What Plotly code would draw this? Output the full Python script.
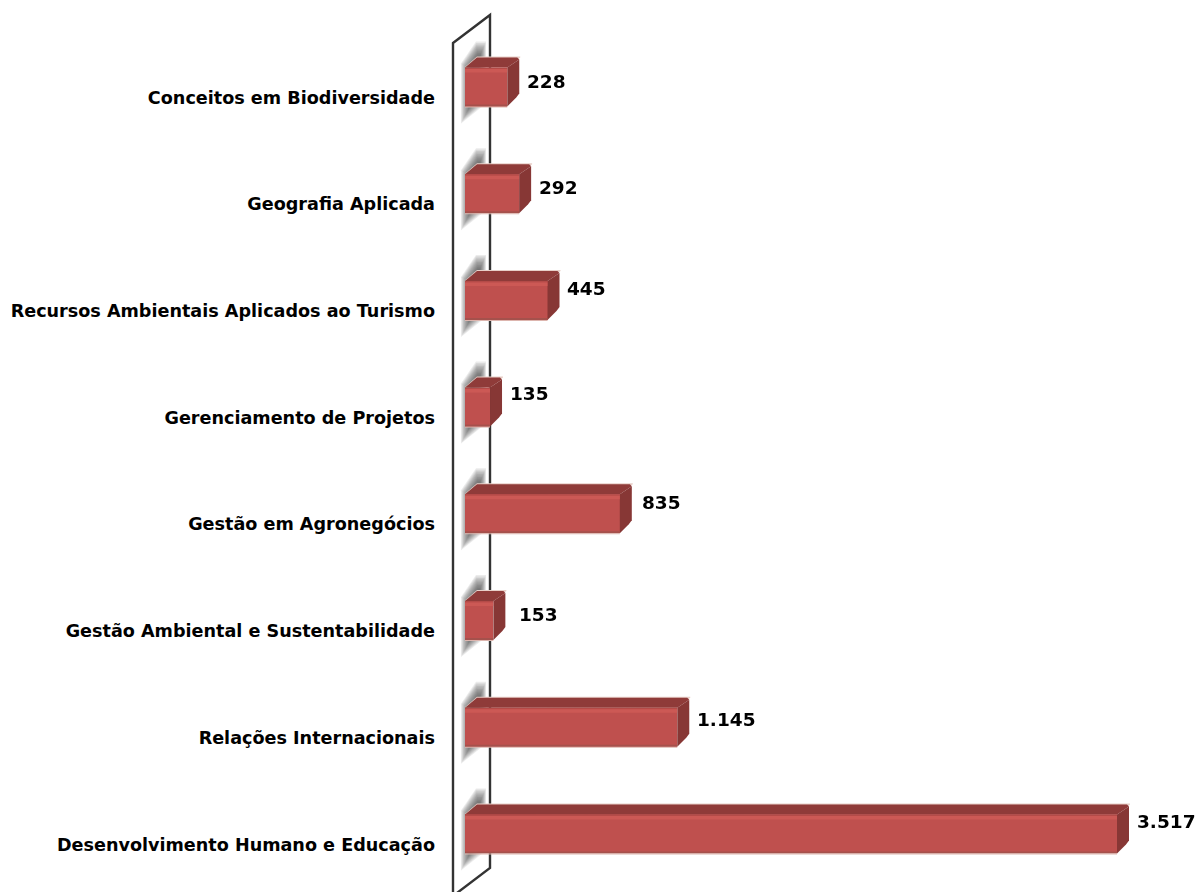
import plotly.graph_objects as go

categories = ["Conceitos em Biodiversidade", "Geografia Aplicada",
              "Recursos Ambientais Aplicados ao Turismo", "Gerenciamento de Projetos",
              "Gestão em Agronegócios", "Gestão Ambiental e Sustentabilidade",
              "Relações Internacionais", "Desenvolvimento Humano e Educação"]
values = [228, 292, 445, 135, 835, 153, 1145, 3517]
value_labels = ["228", "292", "445", "135", "835", "153", "1.145", "3.517"]

W, H = 1197, 892
LEFT = 436
X0_PX, X_SCALE = 465.0, (1117 - 465) / 3517
Y0_PX, Y_STEP = 87.0, 106.7
LABEL_SHIFT = 10.5
BAR_H = 39
NUDGE_X = [18, 18, 17, 18, 20, 24, 18, 18]
NUDGE_Y = [6, 6, 12, 14, 11, 6, 8, 12]

def xd(px):
    return (px - X0_PX) / X_SCALE
def yd(px):
    return (px - Y0_PX) / Y_STEP
def poly(points, fill, opacity=1.0, layer="above", line=None):
    path = "M " + " L ".join(f"{xd(a):.3f} {yd(b):.4f}" for a, b in points) + " Z"
    return dict(type="path", path=path, xref="x", yref="y2", fillcolor=fill, opacity=opacity,
                layer=layer, line=line or dict(width=0))

idx = list(range(len(categories)))
shapes = []

# smudged shadows behind bars, on the wall
for i in idx:
    c = Y0_PX + Y_STEP * i
    t, b = c - BAR_H / 2, c + BAR_H / 2
    for k in range(12):
        ins = k * 0.9
        pts = [(461 + ins, b + 17 - ins * 1.9), (461 + ins, t - 4 + ins * 0.4),
               (476 + ins * 0.2, t - 26 + ins * 1.6), (486 - ins * 0.7, t - 26 + ins * 1.6),
               (486 - ins * 0.7, b - 3 - ins)]
        shapes.append(poly(pts, "#3f3f3f", opacity=0.1, layer="below"))

# wall frame
wall = [(453, 43), (490, 15), (490, 868), (453, 896)]
shapes.append(poly(wall, "rgba(255,255,255,0)", layer="below", line=dict(color="#333333", width=2.4)))

# 3D faces, computed from the values
DX, DY = 12, 10
for i, v in zip(idx, values):
    c = Y0_PX + Y_STEP * i
    t, b = c - BAR_H / 2, c + BAR_H / 2
    r = X0_PX + v * X_SCALE
    shapes.append(poly([(465, t - 0.5), (465 + DX, t - DY - 1), (r + DX + 1, t - DY - 1), (r + DX + 1, t - DY), (r, t)], "#E8CFC8"))
    shapes.append(poly([(465, t), (465 + DX, t - DY), (r + DX - 2, t - DY), (r + DX, t - DY + 2), (r, t)], "#8F3B39"))
    shapes.append(poly([(r, t), (r + DX, t - DY + 2), (r + DX, b - DY - 3), (r + DX - 3, b - DY + 1), (r, b)], "#873735"))
    shapes.append(poly([(465, t), (r, t), (r, t + 1.5), (465, t + 1.5)], "#B44B48"))
    shapes.append(poly([(465, t + 1.5), (r, t + 1.5), (r, t + 5), (465, t + 5)], "#CC5955"))
    shapes.append(poly([(465, b - 2), (r, b - 2), (r, b), (465, b)], "#A5514C"))
    shapes.append(poly([(465, b), (r, b), (r, b + 1), (465, b + 1)], "#DDB5AE"))

fig = go.Figure()
fig.add_trace(go.Scatter(x=values, y=idx, yaxis="y", mode="markers", opacity=0,
                         hoverinfo="skip", showlegend=False))
fig.add_trace(go.Bar(x=values, y=idx, yaxis="y2", orientation="h", width=BAR_H / Y_STEP,
                     marker=dict(color="#BF504E", line=dict(width=0)), showlegend=False,
                     hovertext=categories, hoverinfo="text+x"))

annotations = [dict(x=v, y=i, xref="x", yref="y2", text=f"<b>{t}</b>", showarrow=False,
                    xanchor="left", yanchor="middle", xshift=NUDGE_X[i], yshift=NUDGE_Y[i],
                    font=dict(family="DejaVu Sans", size=18.5, color="#000000"))
               for i, v, t in zip(idx, values, value_labels)]

fig.update_layout(
    width=W, height=H, margin=dict(l=0, r=0, t=0, b=0), autosize=False,
    paper_bgcolor="white", plot_bgcolor="rgba(0,0,0,0)", showlegend=False,
    bargap=0, shapes=shapes, annotations=annotations,
    xaxis=dict(domain=[LEFT / W, 1], range=[xd(LEFT), xd(W)], visible=False, fixedrange=True),
    yaxis=dict(domain=[0, 1], range=[yd(H - LABEL_SHIFT), yd(-LABEL_SHIFT)], tickmode="array",
               tickvals=idx, ticktext=[f"<b>{c}</b>" for c in categories], showgrid=False,
               zeroline=False, showline=False, ticks="", automargin=False, fixedrange=True,
               tickfont=dict(family="DejaVu Sans", size=17.6, color="#000000")),
    yaxis2=dict(overlaying="y", domain=[0, 1], range=[yd(H), yd(0)], visible=False,
                fixedrange=True, side="left"),
)
fig.write_html("out.html", post_script="document.body.style.margin='0';",
               config=dict(displayModeBar=False))
